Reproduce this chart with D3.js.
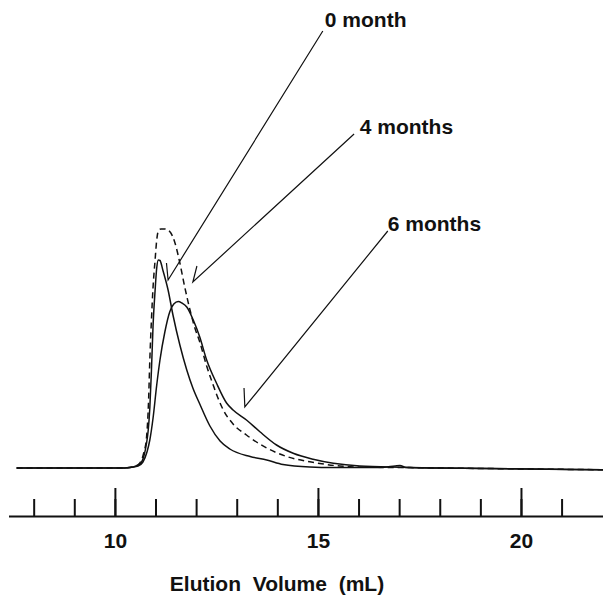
<!DOCTYPE html>
<html>
<head>
<meta charset="utf-8">
<script src="https://cdn.jsdelivr.net/npm/d3@7"></script>
<style>
	body { margin: 0; background: #fff; }
	svg { display: block; font-family: "Liberation Sans", Arial, sans-serif; }
	.curve { fill: none; stroke: #111; stroke-width: 1.5; }
	.dashed { stroke-dasharray: 6,4; }
	.axis path, .axis line { stroke: #111; stroke-width: 2; }
	.axis text { font-size: 21px; font-weight: bold; fill: #111; }
	.lbl { font-size: 21px; font-weight: bold; fill: #111; }
	.leader { fill: none; stroke: #111; stroke-width: 1.2; }
</style>
</head>
<body>
<div id="chart"></div>
<script>
// elution volume (mL) vs detector response (arbitrary units)
let month0 = [
	[7.58, 0], [10.12, 0], [10.37, 0.2], [10.52, 0.8], [10.64, 2], [10.71, 4.5],
	[10.78, 10], [10.82, 15], [10.86, 24], [10.90, 39], [10.94, 57], [10.99, 71],
	[11.03, 80], [11.07, 83.2], [11.11, 83], [11.18, 79.2], [11.31, 71.2], [11.43, 61.2],
	[11.60, 49.2], [11.77, 39.2], [11.92, 32], [12.09, 25.6], [12.34, 16.8], [12.59, 10.8],
	[12.83, 7.6], [13.33, 4.6], [13.74, 3.2], [14.14, 1.4], [14.80, 0.4], [15.37, 0.2],
	[16.53, 0.2], [16.90, 0.8], [17.02, 1.0], [17.17, 0.2], [18.0, 0], [22.02, -0.7]
];
let month4 = [
	[7.58, 0], [10.12, 0], [10.42, 0.4], [10.59, 1.6], [10.71, 6], [10.78, 12.4],
	[10.83, 27.2], [10.86, 43.2], [10.90, 59.2], [10.94, 72.4], [10.99, 83.2], [11.03, 91.2],
	[11.07, 94.8], [11.13, 95.6], [11.23, 95.6], [11.35, 94.6], [11.48, 90], [11.60, 82],
	[11.72, 72.4], [11.85, 63.2], [11.97, 56], [12.09, 50.4], [12.26, 40.8], [12.42, 33.2],
	[12.50, 29.6], [12.67, 23.2], [12.91, 17.6], [13.24, 13.2], [13.74, 8], [14.23, 4.6],
	[14.80, 2.5], [15.54, 0.8], [16.20, 0.3], [17.02, 0.2], [18.0, 0], [22.02, -0.7]
];
let month6 = [
	[7.58, 0], [10.12, 0], [10.37, 0.2], [10.57, 0.8], [10.69, 2.4], [10.79, 6.4],
	[10.86, 11.2], [10.94, 20], [11.03, 33.2], [11.11, 43.2], [11.23, 54.4], [11.35, 62.4],
	[11.45, 65.6], [11.56, 66.6], [11.65, 66], [11.77, 64.4], [11.93, 59.2], [12.09, 52.4],
	[12.26, 43.2], [12.50, 34], [12.75, 26], [12.91, 23.2], [13.24, 19.2], [13.57, 14.5],
	[13.98, 9.2], [14.39, 5.9], [14.88, 3.5], [15.38, 1.9], [16.03, 0.8], [17.02, 0.3],
	[18.0, 0], [22.02, -0.7]
];

let minorTicks = d3.range(8, 22);
let majorTicks = [10, 15, 20];
let xTitle = 'Elution  Volume  (mL)';

// label text, label anchor, line tip, short stroke end (data units)
let notes = [
	{ text: '0 month',  at: [15.17, 176.4], from: [15.12, 174.8], tip: [11.31, 75.2], hook: [11.27, 82] },
	{ text: '4 months', at: [16.03, 133.6], from: [15.89, 133.6], tip: [11.92, 74.4], hook: [12.02, 80.8] },
	{ text: '6 months', at: [16.72, 94.8],  from: [16.72, 94.8],  tip: [13.20, 24.4], hook: [13.18, 32] }
];

let canvasWidth = 603, canvasHeight = 596;
let axisY = 516;

let x = d3.scaleLinear().domain([7.38, 22.02]).range([8.5, 603]);
let y = d3.scaleLinear().domain([0, 100]).range([468, 218]);

let svg = d3.select('#chart').append('svg')
	.attr('width', canvasWidth)
	.attr('height', canvasHeight);

let line = d3.line()
	.x((d) => x(d[0]))
	.y((d) => y(d[1]))
	.curve(d3.curveMonotoneX);

svg.append('path').attr('class', 'curve').attr('d', line(month0));
svg.append('path').attr('class', 'curve').attr('d', line(month6));
svg.append('path').attr('class', 'curve dashed').attr('d', line(month4));

// axis: minor ticks then major ticks with labels
svg.append('g')
	.attr('class', 'axis')
	.attr('transform', 'translate(0,' + axisY + ')')
	.call(d3.axisBottom(x).tickValues(minorTicks).tickSizeInner(-17).tickSizeOuter(0).tickFormat(''));

let major = svg.append('g')
	.attr('class', 'axis')
	.attr('transform', 'translate(0,' + axisY + ')')
	.call(d3.axisBottom(x).tickValues(majorTicks).tickSizeInner(-28).tickSizeOuter(0).tickFormat(d3.format('d')));
major.select('.domain').remove();
major.selectAll('text').attr('y', 32).attr('dy', 0);

svg.append('text')
	.attr('class', 'lbl')
	.attr('x', 277)
	.attr('y', 591)
	.attr('text-anchor', 'middle')
	.style('white-space', 'pre')
	.text(xTitle);

let g = svg.selectAll('.note').data(notes).enter().append('g').attr('class', 'note');
g.append('path')
	.attr('class', 'leader')
	.attr('d', (o) => 'M' + x(o.from[0]) + ',' + y(o.from[1]) +
		'L' + x(o.tip[0]) + ',' + y(o.tip[1]) +
		'L' + x(o.hook[0]) + ',' + y(o.hook[1]));
g.append('text')
	.attr('class', 'lbl')
	.attr('x', (o) => x(o.at[0]))
	.attr('y', (o) => y(o.at[1]))
	.text((o) => o.text);
</script>
</body>
</html>
